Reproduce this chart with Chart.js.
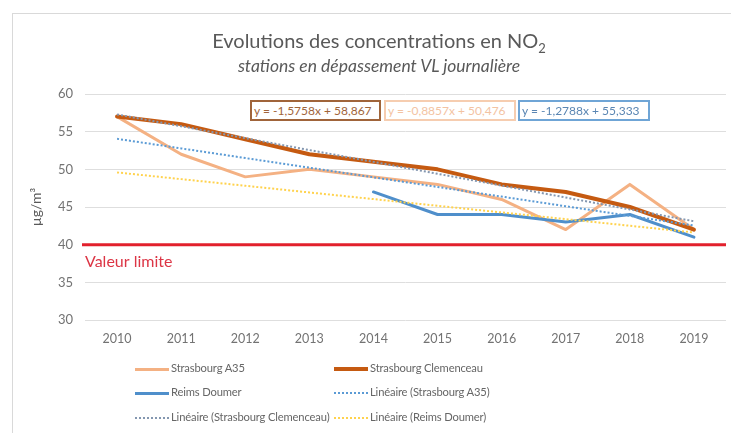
<!DOCTYPE html>
<html>
<head>
<meta charset="utf-8">
<script src="https://cdn.jsdelivr.net/npm/chart.js@4.4.1/dist/chart.umd.min.js"></script>
<style>
  html, body { margin: 0; padding: 0; background: #fff; width: 731px; height: 433px; overflow: hidden; }
  body { position: relative; font-family: Lato, "Open Sans", sans-serif; color: #595959; }
  #frame { position: absolute; left: 12px; top: 13px; width: 800px; height: 500px; border: 1px solid #d9d9d9; box-sizing: border-box; }
  #c { position: absolute; left: 0; top: 0; }
  .title { position: absolute; left: 0; width: 758px; text-align: center; white-space: nowrap; }
  #t1 { top: 28px; font-size: 20px; color: #595959; }
  #t2 { top: 55px; font-size: 17.5px; font-style: italic; color: #595959; }
  .eq { position: absolute; top: 100px; height: 21px; box-sizing: border-box; border: 2px solid; font-size: 12px; line-height: 17px; padding: 0 2px; white-space: nowrap; background: #fff; overflow: hidden; }
  .leg { position: absolute; font-size: 11.2px; letter-spacing: -0.15px; color: #666; white-space: nowrap; }
  .sw { position: absolute; width: 34px; }
</style>
</head>
<body>
<div id="frame"></div>
<canvas id="c" width="731" height="433"></canvas>
<div class="title" id="t1">Evolutions des concentrations en NO<sub style="font-size:13px">2</sub></div>
<div class="title" id="t2">stations en dépassement VL journalière</div>
<div id="eqs"></div>
<div id="legend"></div>
<script>
const years = ["2010","2011","2012","2013","2014","2015","2016","2017","2018","2019"];
const strasbourgA35 = [57, 52, 49, 50, 49, 48, 46, 42, 48, 42];
const strasbourgClemenceau = [57, 56, 54, 52, 51, 50, 48, 47, 45, 42];
const reimsDoumer = [null, null, null, null, 47, 44, 44, 43, 44, 41];
const trendA35 = [54.05, 52.78, 51.50, 50.22, 48.94, 47.66, 46.38, 45.10, 43.82, 42.54];
const trendClemenceau = [57.29, 55.72, 54.14, 52.56, 50.99, 49.41, 47.84, 46.26, 44.68, 43.11];
const trendReims = [49.59, 48.70, 47.82, 46.93, 46.05, 45.16, 44.28, 43.39, 42.51, 41.62];
const limitValue = 40;
const limitLabel = "Valeur limite";
const yTicks = [30, 35, 40, 45, 50, 55, 60];
const equations = ["y = -1,5758x + 58,867", "y = -0,8857x + 50,476", "y = -1,2788x + 55,333"];
const seriesNames = ["Strasbourg A35", "Strasbourg Clemenceau", "Reims Doumer",
  "Linéaire (Strasbourg A35)", "Linéaire (Strasbourg Clemenceau)", "Linéaire (Reims Doumer)"];

const COL_A35 = "#F4B183", COL_CLEM = "#C55A11", COL_REIMS = "#4F8FCB";
const COL_TA35 = "#5B9BD5", COL_TCLEM = "#8497B0", COL_TREIMS = "#FFD24D";
const TICK_COL = "#737373";

const limitPlugin = {
  id: "limit",
  afterDatasetsDraw(chart) {
    const {ctx, chartArea} = chart;
    const y = chart.scales.y.getPixelForValue(limitValue);
    ctx.save();
    ctx.strokeStyle = "#E2202C";
    ctx.lineWidth = 3;
    ctx.beginPath();
    ctx.moveTo(chartArea.left - 3, y);
    ctx.lineTo(chartArea.right, y);
    ctx.stroke();
    ctx.fillStyle = "#DC3545";
    ctx.font = "16px Lato";
    ctx.textBaseline = "alphabetic";
    ctx.fillText(limitLabel, chartArea.left, y + 22);
    ctx.restore();
  }
};

const ds = (label, data, color, width, dotted, order) => ({
  label, data, borderColor: color, backgroundColor: color, borderWidth: width,
  borderDash: dotted ? [2, 2] : [], pointRadius: 0, tension: 0, order,
  borderCapStyle: dotted ? "butt" : "round", borderJoinStyle: "round", spanGaps: false
});

new Chart(document.getElementById("c"), {
  type: "line",
  data: {
    labels: years,
    datasets: [
      ds(seriesNames[0], strasbourgA35, COL_A35, 3, false, 6),
      ds(seriesNames[1], strasbourgClemenceau, COL_CLEM, 4, false, 5),
      ds(seriesNames[2], reimsDoumer, COL_REIMS, 3, false, 4),
      ds(seriesNames[3], trendA35, COL_TA35, 2, true, 3),
      ds(seriesNames[4], trendClemenceau, COL_TCLEM, 2, true, 2),
      ds(seriesNames[5], trendReims, COL_TREIMS, 2, true, 1)
    ]
  },
  options: {
    responsive: false,
    animation: false,
    layout: { padding: { left: 28, right: 5, top: 94, bottom: 0 } },
    plugins: { legend: { display: false }, tooltip: { enabled: false }, title: { display: false } },
    scales: {
      x: {
        offset: true,
        grid: { display: false, drawTicks: false, offset: true },
        border: { display: false },
        ticks: { color: TICK_COL, font: { family: "Lato", size: 12.5 }, padding: 11, maxRotation: 0 },
        afterFit(s) { s.height = 113; }
      },
      y: {
        min: 30, max: 60,
        afterBuildTicks(s) { s.ticks = yTicks.map(v => ({ value: v })); },
        grid: { color: "#dedede", drawTicks: false, lineWidth: 1 },
        border: { display: false },
        ticks: { color: TICK_COL, font: { family: "Lato", size: 13 }, padding: 12 },
        title: { display: true, text: "µg/m³", color: "#595959", font: { family: "Lato", size: 14 }, padding: 0 },
        afterFit(s) { s.width = 57; }
      }
    }
  },
  plugins: [limitPlugin]
});

// equation boxes
const eqStyles = [
  { left: 250, width: 131, border: "#A0643A", color: "#A0643A" },
  { left: 384, width: 132, border: "#F6CDB0", color: "#F3C3A2" },
  { left: 518, width: 132, border: "#6FA5D6", color: "#5A86B3" }
];
const eqDiv = document.getElementById("eqs");
equations.forEach((t, i) => {
  const d = document.createElement("div");
  d.className = "eq";
  d.textContent = t;
  Object.assign(d.style, { left: eqStyles[i].left + "px", width: eqStyles[i].width + "px", borderColor: eqStyles[i].border, color: eqStyles[i].color });
  eqDiv.appendChild(d);
});

// legend
const legItems = [
  { x: 135, y: 369, color: COL_A35, w: 3, dot: false },
  { x: 334, y: 369, color: COL_CLEM, w: 4, dot: false },
  { x: 135, y: 393, color: COL_REIMS, w: 3, dot: false },
  { x: 334, y: 393, color: COL_TA35, w: 2, dot: true },
  { x: 135, y: 418, color: COL_TCLEM, w: 2, dot: true },
  { x: 334, y: 418, color: COL_TREIMS, w: 2, dot: true }
];
const legDiv = document.getElementById("legend");
legItems.forEach((it, i) => {
  const sw = document.createElement("div");
  sw.className = "sw";
  sw.style.left = it.x + "px";
  sw.style.top = (it.y - Math.floor(it.w / 2)) + "px";
  sw.style.borderTop = it.w + "px " + (it.dot ? "dotted " : "solid ") + it.color;
  legDiv.appendChild(sw);
  const t = document.createElement("div");
  t.className = "leg";
  t.textContent = seriesNames[i];
  t.style.left = (it.x + 36) + "px";
  t.style.top = (it.y - 8) + "px";
  legDiv.appendChild(t);
});
</script>
</body>
</html>
